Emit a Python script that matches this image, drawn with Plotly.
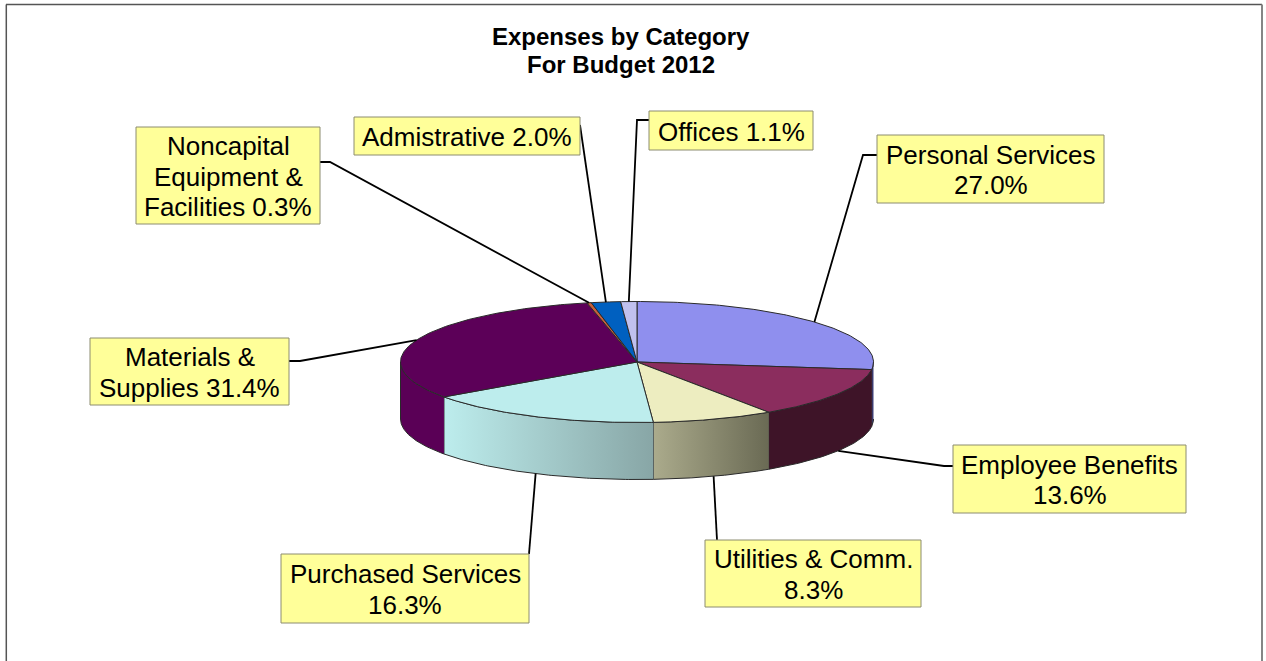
import numpy as np
import plotly.graph_objects as go

# --- data ---
categories = ["Personal Services", "Employee Benefits", "Utilities & Comm.",
              "Purchased Services", "Materials & Supplies",
              "Noncapital Equipment & Facilities", "Admistrative", "Offices"]
values = [27.0, 13.6, 8.3, 16.3, 31.4, 0.3, 2.0, 1.1]
label_lines = [["Personal Services", "{}"], ["Employee Benefits", "{}"],
               ["Utilities & Comm.", "{}"], ["Purchased Services", "{}"],
               ["Materials &", "Supplies {}"],
               ["Noncapital", "Equipment &", "Facilities {}"],
               ["Admistrative {}"], ["Offices {}"]]
title_lines = ["Expenses by Category", "For Budget 2012"]

# --- styling ---
top_colors = ["#8F8FEE", "#8B2D5E", "#EDEDC0", "#BDEDED", "#5C0058", "#C8603C", "#0060C0", "#C0C0EE"]
side_colors = [("#3E3E78", "#3E3E78"), ("#3E1428", "#3E1428"), ("#ABAB8C", "#6A6A54"),
               ("#BDEDED", "#88A6A6"), ("#5A0056", "#5A0056"), None, None, None]
# label box: x0, y0, x1, y1 ; leader waypoints after the pie-edge start
boxes = [(877, 135, 1104, 203), (953, 445, 1186, 513), (705, 540, 921, 607), (281, 554, 529, 623),
         (90, 338, 289, 405), (136, 127, 320, 224), (354, 117, 580, 155), (649, 111, 813, 150)]
leaders = [[(863, 155), (877, 155)], [(944, 466), (953, 466)], [(717, 540)], [(529, 554)],
           [(300, 361), (289, 361)], [(330, 162), (320, 162)], [(580, 125)], [(637, 120), (649, 120)]]
CX, CY, RX, RY, DEPTH = 637, 362, 236.5, 60.5, 57
FONT = "Liberation Sans, Arial, sans-serif"


def ex(t):
    return CX + RX * np.sin(t)


def ey(t):
    return CY - RY * np.cos(t)


fractions = np.array(values) / sum(values)
edges = np.concatenate([[0], np.cumsum(fractions)]) * 2 * np.pi

fig = go.Figure()

# side walls (only the front half of the rim is visible)
for i, sc in enumerate(side_colors):
    if sc is None:
        continue
    a = max(edges[i], np.pi / 2)
    b = min(edges[i + 1], 3 * np.pi / 2)
    t = np.linspace(a, b, 80)
    xs = np.concatenate([ex(t), ex(t[::-1])])
    ys = np.concatenate([ey(t), ey(t[::-1]) + DEPTH])
    fig.add_trace(go.Scatter(
        x=xs, y=ys, mode="lines", fill="toself",
        fillgradient=dict(type="horizontal", colorscale=[[0, sc[0]], [1, sc[1]]]),
        line=dict(color="#2a2a2a", width=1), hoverinfo="skip", showlegend=False))

# top faces
for i, name in enumerate(categories):
    t = np.linspace(edges[i], edges[i + 1], 120)
    fig.add_trace(go.Scatter(
        x=np.concatenate([[CX], ex(t), [CX]]), y=np.concatenate([[CY], ey(t), [CY]]),
        mode="lines", fill="toself", fillcolor=top_colors[i],
        line=dict(color="#2a2a2a", width=1), name=name,
        hovertemplate=f"{name}: {values[i]:.1f}%<extra></extra>", showlegend=False))

# leaders
for i, way in enumerate(leaders):
    mid = (edges[i] + edges[i + 1]) / 2
    sx, sy = ex(mid), ey(mid) + (DEPTH if np.cos(mid) < 0 else 0)
    fig.add_trace(go.Scatter(
        x=[sx] + [p[0] for p in way], y=[sy] + [p[1] for p in way], mode="lines",
        line=dict(color="black", width=1.8), hoverinfo="skip", showlegend=False))

shapes = [
    dict(type="line", x0=6, y0=4.5, x1=1262, y1=4.5, layer="below", line=dict(color="#555555", width=1.5)),
    dict(type="line", x0=6.3, y0=4.5, x1=6.3, y1=661, layer="below", line=dict(color="#555555", width=1.5)),
    dict(type="line", x0=1262, y0=4.5, x1=1262, y1=661, layer="below", line=dict(color="#858585", width=2)),
]
annotations = []
for i, (x0, y0, x1, y1) in enumerate(boxes):
    shapes.append(dict(type="rect", x0=x0, y0=y0, x1=x1, y1=y1, layer="above",
                       line=dict(color="#8C8C70", width=1), fillcolor="#FFFF99"))
    pct = f"{values[i]:.1f}%"
    n = len(label_lines[i])
    for j, line in enumerate(label_lines[i]):
        annotations.append(dict(
            x=(x0 + x1) / 2, y=(y0 + y1) / 2 + 1 + (j - (n - 1) / 2) * 30.5,
            text=line.format(pct), showarrow=False, xanchor="center", yanchor="middle",
            font=dict(family=FONT, size=26, color="black")))
for j, line in enumerate(title_lines):
    annotations.append(dict(
        x=620.5, y=36 + 28 * j, text=f"<b>{line}</b>", showarrow=False,
        xanchor="center", yanchor="middle", font=dict(family=FONT, size=24, color="black")))

fig.update_layout(
    width=1266, height=661, margin=dict(l=0, r=0, t=0, b=0),
    paper_bgcolor="white", plot_bgcolor="white", showlegend=False,
    xaxis=dict(range=[0, 1266], visible=False, fixedrange=True),
    yaxis=dict(range=[661, 0], visible=False, fixedrange=True),
    shapes=shapes, annotations=annotations)

fig.write_html("out.html", config={"displayModeBar": False},
               post_script="document.body.style.margin='0';document.body.style.overflow='hidden';")
